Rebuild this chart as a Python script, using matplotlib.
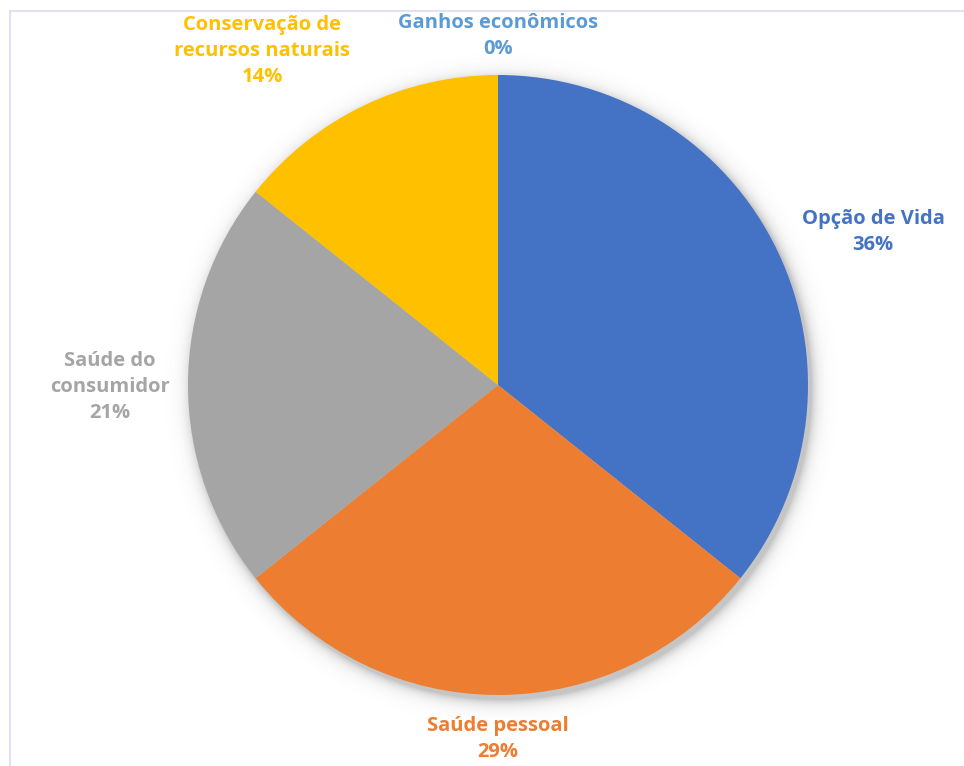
import numpy as np
import matplotlib
matplotlib.use("Agg")
import matplotlib.pyplot as plt
from matplotlib.lines import Line2D

# motivos para consumir produtos orgânicos (número de respostas)
categorias = ["Opção de Vida", "Saúde pessoal", "Saúde do\nconsumidor",
              "Conservação de\nrecursos naturais", "Ganhos econômicos"]
respostas = [5, 4, 3, 2, 0]
cores = ["#4472C4", "#ED7D31", "#A5A5A5", "#FFC000", "#5B9BD5"]

# posição dos rótulos (x, y em pixels) e raio/centro da pizza
rotulos_pos = [(873, 534), (498, 27), (110, 379), (262, 715), (498, 730)]
cx, cy, raio = 498, 381, 310

fig = plt.figure(figsize=(9.64, 7.66), dpi=100)
ax = fig.add_axes([0, 0, 1, 1])
ax.set_xlim(0, 964)
ax.set_ylim(0, 766)
ax.axis("off")

# borda da área do gráfico
ax.add_line(Line2D([9.5, 9.5], [0, 755], color="#DCDCF2", lw=1.2))
ax.add_line(Line2D([9.5, 964], [755, 755], color="#DCDCF2", lw=1.2))

# sombra suave em volta da pizza
xx, yy = np.meshgrid(np.arange(0, 964), np.arange(0, 766))
d = np.hypot(xx - (cx + 3), yy - (cy - 5)) - raio
alpha = np.clip(0.35 * np.exp(-np.clip(d, 0, None) / 6.0), 0, 0.35)
alpha[d < 0] = 0.35
sombra = np.zeros((766, 964, 4))
sombra[..., :3] = 0.35
sombra[..., 3] = alpha
ax.imshow(sombra, extent=(0, 964, 0, 766), origin="lower", zorder=1)

ax.pie(respostas, colors=cores, startangle=90, counterclock=False,
       center=(cx, cy), radius=raio, frame=True,
       wedgeprops=dict(linewidth=0, zorder=2))
ax.set_xlim(0, 964)
ax.set_ylim(0, 766)
ax.axis("off")

total = sum(respostas)
for nome, valor, cor, (x, y) in zip(categorias, respostas, cores, rotulos_pos):
    pct = "{:.0f}%".format(100 * valor / total)
    ax.text(x, y, nome + "\n" + pct, ha="center", va="center", color=cor,
            fontsize=14.5, fontweight="bold", family="Open Sans",
            linespacing=1.4, zorder=3)

fig.savefig("out.png", dpi=100)
